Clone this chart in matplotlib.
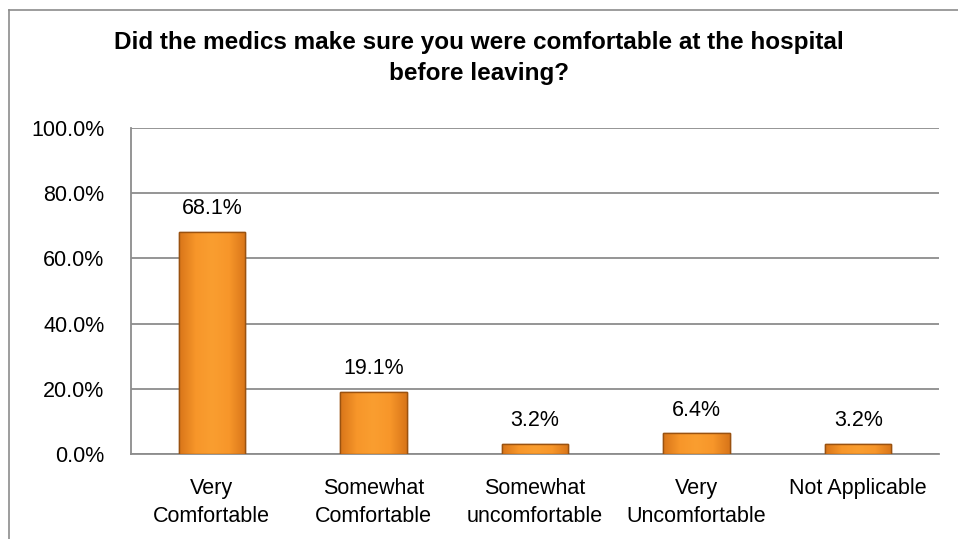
import numpy as np
import matplotlib.pyplot as plt
from matplotlib.lines import Line2D
from matplotlib.colors import LinearSegmentedColormap
from matplotlib.ticker import FuncFormatter

# Survey data
categories = ['Very\nComfortable', 'Somewhat\nComfortable', 'Somewhat\nuncomfortable',
              'Very\nUncomfortable', 'Not Applicable']
values = [68.1, 19.1, 3.2, 6.4, 3.2]
yticks = [0, 20, 40, 60, 80, 100]

plt.rcParams['font.family'] = ['Liberation Sans', 'DejaVu Sans']

fig = plt.figure(figsize=(9.58, 5.39), dpi=100)
ax = fig.add_axes([131 / 958, 1 - 454 / 539, (939 - 131) / 958, (454 - 128) / 539])

x = np.arange(len(categories))
bars = ax.bar(x, values, width=0.41, color='#F39325', edgecolor='#9A5210', linewidth=1.0, zorder=3)

# bevelled orange look: horizontal gradient inside each bar
cmap = LinearSegmentedColormap.from_list('bev', ['#D9761A', '#F7962A', '#FA9E30', '#F7962A', '#D9761A'])
grad = np.linspace(0, 1, 100).reshape(1, -1)
for b in bars:
    x0, w, h = b.get_x(), b.get_width(), b.get_height()
    im = ax.imshow(grad, cmap=cmap, aspect='auto', extent=[x0, x0 + w, 0, h], zorder=3.5)
    im.set_clip_path(b)
    ax.bar(x0 + w / 2, h, width=w, fill=False, edgecolor='#9A5210', linewidth=1.0, zorder=4)

for b, v in zip(bars, values):
    ax.annotate(f'{v:.1f}%', (b.get_x() + b.get_width() / 2, v), xytext=(0, 9),
                textcoords='offset points', ha='center', va='bottom', fontsize=15.5, color='black')

ax.set_xlim(-0.5, len(categories) - 0.5)
ax.set_ylim(0, 100)
ax.set_yticks(yticks)
ax.yaxis.set_major_formatter(FuncFormatter(lambda v, p: f'{v:.1f}%'))
ax.set_xticks(x)
ax.set_xticklabels(categories, fontsize=15.5, linespacing=1.45)
ax.tick_params(axis='y', length=0, pad=19, labelsize=15.5)
ax.tick_params(axis='x', length=0, pad=17)

ax.grid(axis='y', color='#8C8C8C', linewidth=1.3, zorder=0)
for s in ['top', 'right']:
    ax.spines[s].set_visible(False)
for s in ['left', 'bottom']:
    ax.spines[s].set_color('#8C8C8C')
    ax.spines[s].set_linewidth(1.3)

fig.text(0.5, 1 - 58 / 539, 'Did the medics make sure you were comfortable at the hospital\nbefore leaving?',
         ha='center', va='center', fontsize=17.5, fontweight='bold', linespacing=1.45)

# outer chart border (cut off on the right and bottom)
fig.add_artist(Line2D([9 / 958, 1], [1 - 10 / 539, 1 - 10 / 539], transform=fig.transFigure,
                      color='#8C8C8C', linewidth=1.2))
fig.add_artist(Line2D([9 / 958, 9 / 958], [0, 1 - 10 / 539], transform=fig.transFigure,
                      color='#8C8C8C', linewidth=1.2))

fig.savefig('out.png', dpi=100)
